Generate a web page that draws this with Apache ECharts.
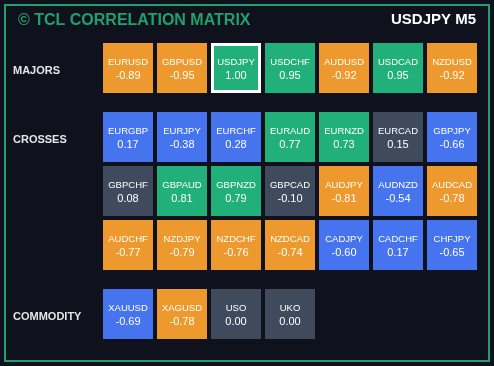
<!DOCTYPE html>
<html><head><meta charset="utf-8">
<script src="https://cdn.jsdelivr.net/npm/echarts@6/dist/echarts.min.js"></script>
<style>html,body{margin:0;padding:0;background:#0f111c;}#c{width:494px;height:366px;}</style>
</head><body><div id="c"></div>
<script>
const titleText = '© TCL CORRELATION MATRIX';
const symbolText = 'USDJPY M5';
const currentSymbol = 'USDJPY';
const groupLabels = ['MAJORS', 'CROSSES', 'COMMODITY'];

const majorsNames = ['EURUSD','GBPUSD','USDJPY','USDCHF','AUDUSD','USDCAD','NZDUSD'];
const majorsValues = [-0.89,-0.95,1.00,0.95,-0.92,0.95,-0.92];

const crossesNames = ['EURGBP','EURJPY','EURCHF','EURAUD','EURNZD','EURCAD','GBPJPY',
  'GBPCHF','GBPAUD','GBPNZD','GBPCAD','AUDJPY','AUDNZD','AUDCAD',
  'AUDCHF','NZDJPY','NZDCHF','NZDCAD','CADJPY','CADCHF','CHFJPY'];
const crossesValues = [0.17,-0.38,0.28,0.77,0.73,0.15,-0.66,
  0.08,0.81,0.79,-0.10,-0.81,-0.54,-0.78,
  -0.77,-0.79,-0.76,-0.74,-0.60,0.17,-0.65];

const commodityNames = ['XAUUSD','XAGUSD','USO','UKO'];
const commodityValues = [-0.69,-0.78,0.00,0.00];

const COLS = 7;
const colStrong = '#22b07a', colNeg = '#ee992d', colMid = '#4574ee', colWeak = '#3f4a5c';
function colorFor(v){
  if (v >= 0.7) return colStrong;
  if (v <= -0.7) return colNeg;
  if (Math.abs(v) <= 0.15) return colWeak;
  return colMid;
}
function buildData(names, values){
  return names.map((n,i)=>{
    const cur = n === currentSymbol;
    return {
      value: [i % COLS, Math.floor(i / COLS)],
      name: n, corr: values[i],
      symbolSize: cur ? 47 : 50,
      itemStyle: { color: colorFor(values[i]), opacity: 1, borderColor: cur ? '#ffffff' : 'transparent', borderWidth: cur ? 3 : 0 }
    };
  });
}
const groups = [
  {names: majorsNames, values: majorsValues, top: 41},
  {names: crossesNames, values: crossesValues, top: 110},
  {names: commodityNames, values: commodityValues, top: 287}
];
const grids = [], xAxes = [], yAxes = [], series = [];
groups.forEach((g, gi)=>{
  const rows = Math.ceil(g.names.length / COLS);
  grids.push({left: 101, width: 378, top: g.top, height: 54 * rows});
  xAxes.push({type:'category', gridIndex: gi, data: [0,1,2,3,4,5,6], show: false, boundaryGap: true});
  const ylab = [groupLabels[gi]]; for (let r=1;r<rows;r++) ylab.push('');
  yAxes.push({type:'category', gridIndex: gi, data: ylab, inverse: true, boundaryGap: true,
    axisLine:{show:false}, axisTick:{show:false}, splitLine:{show:false},
    axisLabel:{show:true, align:'left', margin: 88,
      formatter: v => v ? '{a|' + v + '}' : '',
      rich: {a: {padding:[6,0,0,0], color:'#e6e6e6', fontSize: 11, fontWeight:'bold', fontFamily:'Liberation Sans'}}}});
  series.push({
    type:'scatter', xAxisIndex: gi, yAxisIndex: gi, symbol:'rect',
    data: buildData(g.names, g.values), silent: true, animation: false,
    itemStyle: {opacity: 1},
    label: {show: true, position: 'inside', offset:[0,1],
      formatter: p => '{n|' + p.data.name + '}\n{v|' + p.data.corr.toFixed(2) + '}',
      rich: {
        n: {fontSize: 9.5, fontFamily:'Liberation Sans', color:'#ffffff', lineHeight: 13, align:'center'},
        v: {fontSize: 11, fontFamily:'Liberation Sans', color:'#ffffff', lineHeight: 14, align:'center'}
      }}
  });
});
const chart = echarts.init(document.getElementById('c'), null, {renderer:'canvas'});
chart.setOption({
  backgroundColor: '#0f111c',
  animation: false,
  title: [
    {text: titleText, left: 18, top: 13, padding: 0, textStyle:{color:'#22a06b', fontSize:16, fontWeight:'bold', fontFamily:'Liberation Sans'}},
    {text: symbolText, right: 18, top: 12, padding: 0, textStyle:{color:'#ffffff', fontSize:15, fontWeight:'bold', fontFamily:'Liberation Sans'}}
  ],
  graphic: [{type:'rect', shape:{x:5, y:5, width:484, height:356}, style:{fill:'none', stroke:'#22a06b', lineWidth:2}, silent:true}],
  grid: grids, xAxis: xAxes, yAxis: yAxes, series: series
});
</script></body></html>
